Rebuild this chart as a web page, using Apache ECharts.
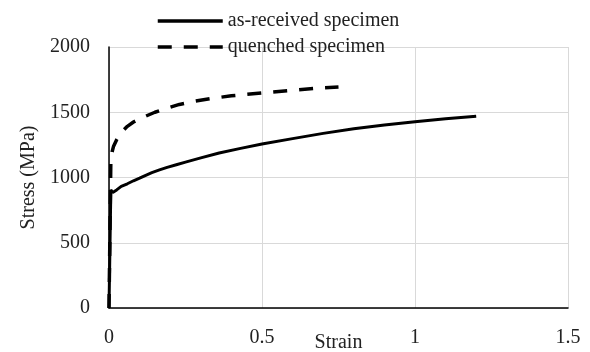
<!DOCTYPE html>
<html>
<head>
<meta charset="utf-8">
<script src="https://cdn.jsdelivr.net/npm/echarts@6/dist/echarts.min.js"></script>
<style>
  html, body { margin: 0; padding: 0; background: #fff; }
  #chart { width: 590px; height: 352px; }
</style>
</head>
<body>
<div id="chart"></div>
<script>
// strain / stress curves
const seriesNames = ['as-received specimen', 'quenched specimen'];

const asReceived = [
  [0, 0], [0.006, 905], [0.012, 885], [0.025, 905], [0.04, 932], [0.06, 952],
  [0.08, 975], [0.1, 995], [0.12, 1017], [0.14, 1037], [0.165, 1058], [0.19, 1078],
  [0.22, 1098], [0.25, 1118], [0.3, 1150], [0.36, 1188], [0.43, 1223],
  [0.5, 1256], [0.6, 1298], [0.7, 1338], [0.8, 1373], [0.9, 1402],
  [1.0, 1428], [1.1, 1450], [1.2, 1470]
];

const quenched = [
  [0, 0], [0.006, 1130], [0.01, 1195], [0.015, 1240], [0.025, 1290],
  [0.04, 1345], [0.06, 1392], [0.08, 1425], [0.11, 1460], [0.15, 1500],
  [0.19, 1532], [0.23, 1560], [0.28, 1584], [0.33, 1604], [0.4, 1626],
  [0.5, 1648], [0.6, 1668], [0.68, 1684], [0.75, 1693]
];

const xTicks = { min: 0, max: 1.5, interval: 0.5 };
const yTicks = { min: 0, max: 2000, interval: 500 };

const font = 'Liberation Serif';
const chart = echarts.init(document.getElementById('chart'), null, { renderer: 'canvas' });

const option = {
  animation: false,
  backgroundColor: '#fff',
  textStyle: { fontFamily: font },
  grid: { left: 109, right: 22, top: 47, bottom: 44, containLabel: false, outerBoundsMode: 'none' },
  legend: {
    orient: 'vertical',
    left: 151,
    top: 5,
    itemWidth: 65,
    itemHeight: 14,
    itemGap: 4,
    itemStyle: { opacity: 0 },
    textStyle: { fontFamily: font, fontSize: 20, color: '#222', lineHeight: 22 },
    data: [
      { name: seriesNames[0], lineStyle: { width: 3.5 } },
      { name: seriesNames[1], lineStyle: { width: 3.5, type: [14, 12] } }
    ]
  },
  xAxis: {
    type: 'value',
    min: xTicks.min,
    max: xTicks.max,
    interval: xTicks.interval,
    name: 'Strain',
    nameLocation: 'middle',
    nameGap: 25,
    nameMoveOverlap: false,
    nameTextStyle: { fontFamily: font, fontSize: 20, color: '#222' },
    axisLine: { lineStyle: { color: '#000', width: 1.5 } },
    axisTick: { show: false },
    axisLabel: { margin: 20, fontFamily: font, fontSize: 20, color: '#222' },
    splitLine: { show: true, lineStyle: { color: '#d9d9d9', width: 1 } }
  },
  yAxis: {
    type: 'value',
    min: yTicks.min,
    max: yTicks.max,
    interval: yTicks.interval,
    name: 'Stress (MPa)',
    nameLocation: 'middle',
    nameGap: 66,
    nameTextStyle: { fontFamily: font, fontSize: 20, color: '#222' },
    axisLine: { show: true, lineStyle: { color: '#000', width: 1.5 } },
    axisTick: { show: false },
    axisLabel: {
      margin: 19, fontFamily: font, fontSize: 20, color: '#222',
      formatter: function (value) { return String(value); }
    },
    splitLine: { show: true, lineStyle: { color: '#d9d9d9', width: 1 } }
  },
  series: [
    {
      name: seriesNames[0],
      type: 'line',
      data: asReceived,
      smooth: false,
      symbol: 'none',
      lineStyle: { color: '#000', width: 3 },
      itemStyle: { color: '#000' }
    },
    {
      name: seriesNames[1],
      type: 'line',
      data: quenched,
      smooth: false,
      symbol: 'none',
      lineStyle: { color: '#000', width: 3.5, type: [14, 12] },
      itemStyle: { color: '#000' }
    }
  ]
};

chart.setOption(option);
</script>
</body>
</html>
